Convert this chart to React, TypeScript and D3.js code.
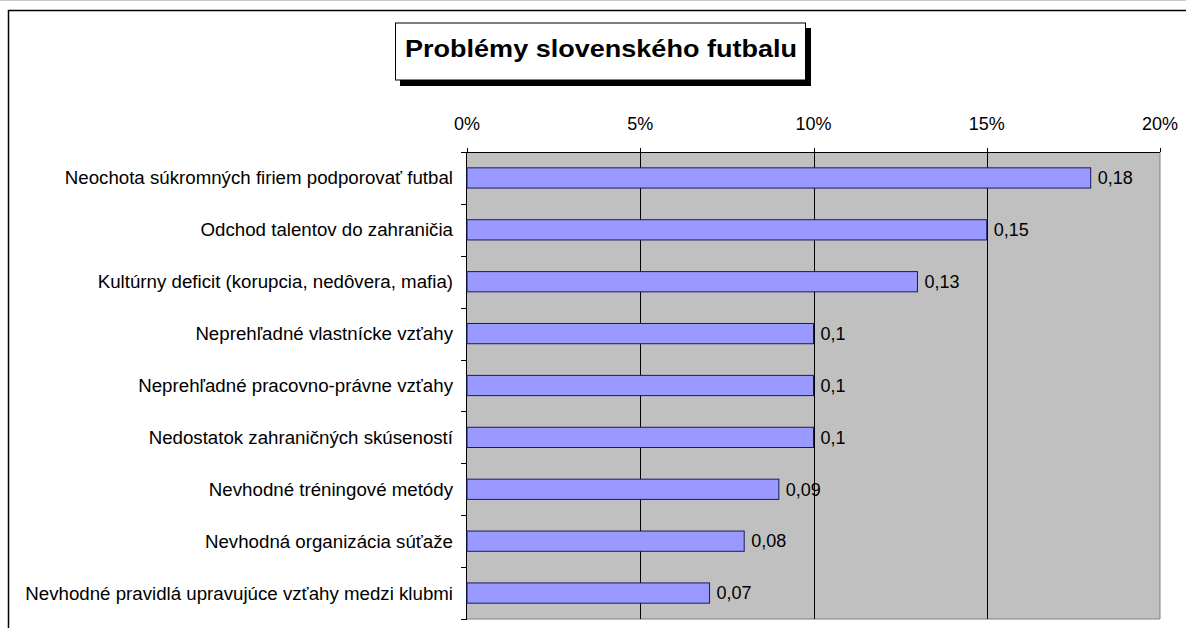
import React from "react";
import * as d3 from "d3";

const categories = [
  "Neochota súkromných firiem podporovať futbal",
  "Odchod talentov do zahraničia",
  "Kultúrny deficit (korupcia, nedôvera, mafia)",
  "Neprehľadné vlastnícke vzťahy",
  "Neprehľadné pracovno-právne vzťahy",
  "Nedostatok zahraničných skúseností",
  "Nevhodné tréningové metódy",
  "Nevhodná organizácia súťaže",
  "Nevhodné pravidlá upravujúce vzťahy medzi klubmi",
];
const values = [0.18, 0.15, 0.13, 0.1, 0.1, 0.1, 0.09, 0.08, 0.07];
const valueLabels = ["0,18", "0,15", "0,13", "0,1", "0,1", "0,1", "0,09", "0,08", "0,07"];
const xTicks = [0, 0.05, 0.1, 0.15, 0.2];
const title = "Problémy slovenského futbalu";

const W = 1186;
const H = 628;
const font = "'Liberation Sans', Arial, sans-serif";

export default function App() {
  const left = 467;
  const right = 1160;
  const top = 152;
  const bottom = 619;
  const x = d3.scaleLinear().domain([0, 0.2]).range([left, right]);
  const y = d3.scaleBand<string>().domain(categories).range([top, bottom]).paddingInner(0.61).paddingOuter(0.305);
  const band = d3.scaleBand<string>().domain(categories).range([top, bottom]);

  const boundaries = d3.range(categories.length + 1).map((i) => top + (i * (bottom - top)) / categories.length);

  return (
    <svg width={W} height={H} style={{ position: "absolute", left: 0, top: 0, background: "#fff" }} fontFamily={font}>
      <line x1={0} x2={W} y1={0.5} y2={0.5} stroke="#c8c8c8" />
      {/* outer frame */}
      <rect x={8.5} y={10.5} width={W + 20} height={H + 20} fill="#fff" stroke="#000" strokeWidth={1.5} />

      {/* plot area */}
      <rect x={left} y={top} width={right - left} height={bottom - top} fill="#c0c0c0" />
      <line x1={right} x2={right} y1={top} y2={bottom} stroke="#808080" />
      <line x1={left} x2={right} y1={bottom} y2={bottom} stroke="#808080" />

      {/* gridlines */}
      {xTicks.slice(1, -1).map((t) => (
        <line key={t} x1={Math.round(x(t)) + 0.5} x2={Math.round(x(t)) + 0.5} y1={top} y2={bottom} stroke="#000" />
      ))}

      {/* top axis */}
      <line x1={left} x2={right} y1={top + 0.5} y2={top + 0.5} stroke="#000" />
      {xTicks.map((t) => (
        <g key={t}>
          <line x1={Math.round(x(t)) + 0.5} x2={Math.round(x(t)) + 0.5} y1={top - 4} y2={top} stroke="#000" />
          <text x={x(t)} y={129.5} textAnchor="middle" fontSize={18} fill="#000">
            {d3.format(".0%")(t)}
          </text>
        </g>
      ))}

      {/* left axis */}
      <line x1={left - 0.5} x2={left - 0.5} y1={top} y2={bottom} stroke="#000" />
      {boundaries.map((b, i) => (
        <line key={i} x1={left - 6} x2={left} y1={Math.round(b) + 0.5} y2={Math.round(b) + 0.5} stroke="#000" />
      ))}

      {categories.map((c, i) => (
        <g key={c}>
          <rect
            x={left}
            y={y(c)!}
            width={x(values[i]) - left}
            height={y.bandwidth()}
            fill="#9999ff"
            stroke="#1a1a5a"
            strokeWidth={1}
          />
          <text
            x={left - 14}
            y={band(c)! + band.bandwidth() / 2}
            dy="0.35em"
            textAnchor="end"
            fontSize={18.7}
            fill="#000"
          >
            {c}
          </text>
          <text x={x(values[i]) + 7} y={band(c)! + band.bandwidth() / 2} dy="0.35em" fontSize={18} fill="#000">
            {valueLabels[i]}
          </text>
        </g>
      ))}

      {/* title */}
      <rect x={400} y={28} width={411} height={58} fill="#000" />
      <rect x={395.5} y={23} width={410} height={57} fill="#fff" stroke="#000" />
      <text
        x={405}
        y={56.7}
        fontSize={24}
        fontWeight="bold"
        fill="#000"
        textLength={392}
        lengthAdjust="spacingAndGlyphs"
      >
        {title}
      </text>
    </svg>
  );
}
